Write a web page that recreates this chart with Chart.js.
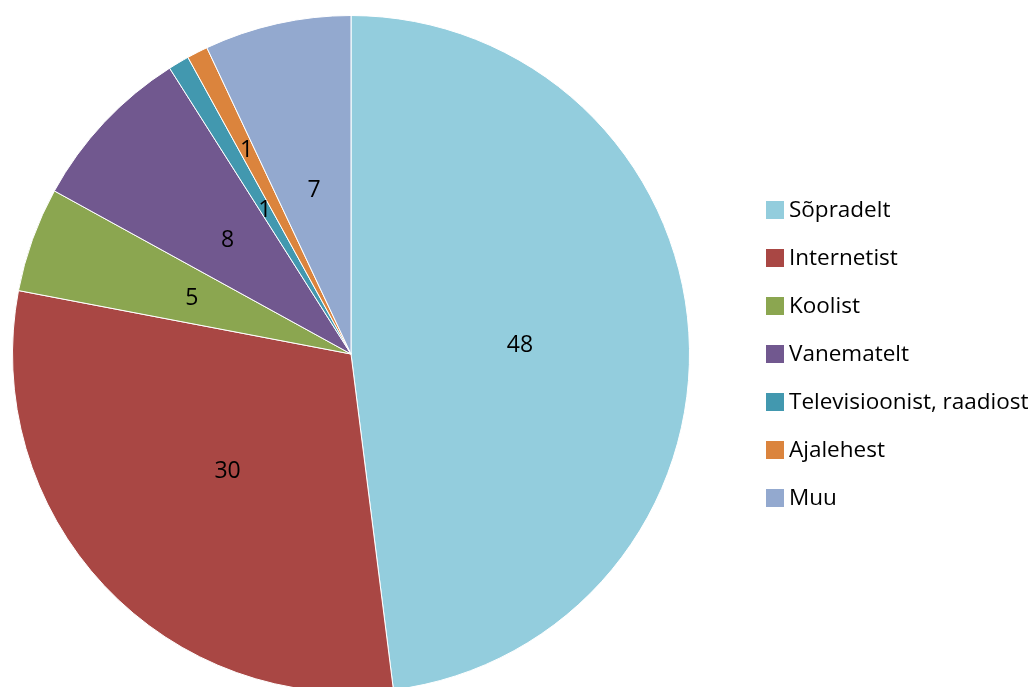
<!DOCTYPE html>
<html>
<head>
<meta charset="utf-8">
<script src="https://cdn.jsdelivr.net/npm/chart.js@4.4.0/dist/chart.umd.min.js"></script>
<style>
  html,body{margin:0;padding:0;background:#fff;overflow:hidden;}
  #wrap{position:relative;width:1035px;height:700px;}
</style>
</head>
<body>
<div id="wrap"><canvas id="pie"></canvas></div>
<script>
// ── DATA ──
const labels = ['Sõpradelt','Internetist','Koolist','Vanematelt','Televisioonist, raadiost','Ajalehest','Muu'];
const values = [48, 30, 5, 8, 1, 1, 7];
const colors = ['#93CDDD','#A94744','#8BA650','#71588F','#4298AF','#DB843D','#93A9CF'];

const FONT = "'Open Sans', sans-serif";

// slice value labels, placed at half radius (pushed out where small slices crowd)
const sliceLabels = {
  id:'sliceLabels',
  afterDatasetsDraw(chart, args, opts){
    const ctx = chart.ctx;
    const meta = chart.getDatasetMeta(0);
    ctx.save();
    ctx.font = '23px ' + FONT;
    ctx.fillStyle = '#000';
    ctx.textAlign = 'center';
    ctx.textBaseline = 'middle';
    meta.data.forEach((arc,i)=>{
      const p = arc.getProps(['x','y','startAngle','endAngle','outerRadius']);
      const mid = (p.startAngle + p.endAngle)/2;
      const f = (opts.push && opts.push[i]) || 0.5;
      const r = p.outerRadius * f;
      ctx.fillText(String(values[i]), p.x + Math.cos(mid)*r, p.y + Math.sin(mid)*r + 2);
    });
    ctx.restore();
  }
};

// legend drawn on the right like the original
const sideLegend = {
  id:'sideLegend',
  afterDraw(chart, args, opts){
    const ctx = chart.ctx;
    ctx.save();
    ctx.font = '22.5px ' + FONT;
    ctx.textBaseline = 'middle';
    labels.forEach((l,i)=>{
      const y = opts.top + i*opts.step;
      ctx.fillStyle = colors[i];
      ctx.fillRect(opts.left, y-9, 18, 18);
      ctx.fillStyle = '#000';
      ctx.fillText(l, opts.left + 23, y + 1);
    });
    ctx.restore();
  }
};

new Chart(document.getElementById('pie').getContext('2d'),{
  type:'pie',
  data:{labels, datasets:[{data:values, backgroundColor:colors, borderColor:'#fff', borderWidth:1}]},
  options:{
    responsive:true, maintainAspectRatio:false, animation:false,
    layout:{padding:{left:12,top:15,right:345,bottom:7}},
    plugins:{
      legend:{display:false}, tooltip:{enabled:false},
      sliceLabels:{push:[0.5,0.5,0.5,0.5,0.5,0.68,0.5]},
      sideLegend:{left:766, top:210, step:48}
    }
  },
  plugins:[sliceLabels, sideLegend]
});
</script>
</body>
</html>
